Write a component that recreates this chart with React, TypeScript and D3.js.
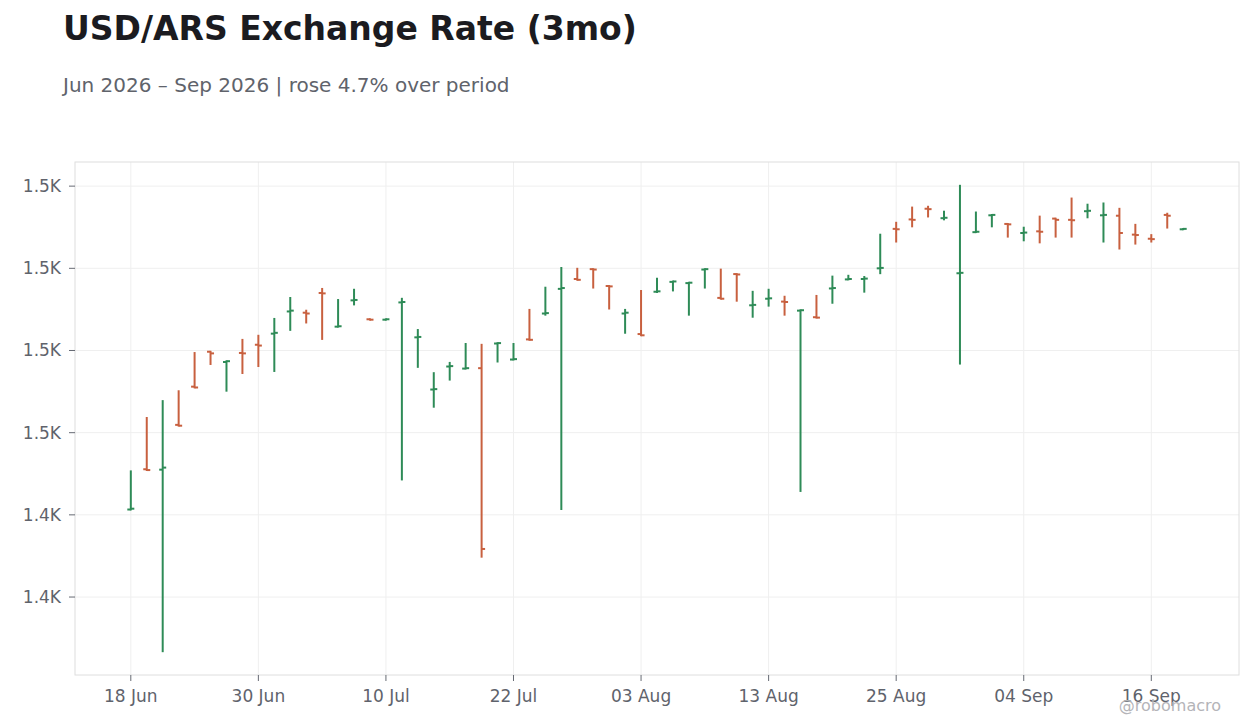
import React, { useEffect, useRef } from 'react';
import * as d3 from 'd3';

// trading days shown on the x axis (weekends skipped)
const dates = [
    '2026-06-18', '2026-06-19', '2026-06-22', '2026-06-23', '2026-06-24', '2026-06-25', '2026-06-26', '2026-06-29', '2026-06-30',
    '2026-07-01', '2026-07-02', '2026-07-03', '2026-07-06', '2026-07-07', '2026-07-08', '2026-07-09', '2026-07-10',
    '2026-07-13', '2026-07-14', '2026-07-15', '2026-07-16', '2026-07-17', '2026-07-20', '2026-07-21', '2026-07-22',
    '2026-07-23', '2026-07-24', '2026-07-27', '2026-07-28', '2026-07-29', '2026-07-30', '2026-07-31',
    '2026-08-03', '2026-08-04', '2026-08-05', '2026-08-06', '2026-08-07', '2026-08-10', '2026-08-11', '2026-08-12',
    '2026-08-13', '2026-08-14', '2026-08-17', '2026-08-18', '2026-08-19', '2026-08-20', '2026-08-21', '2026-08-24',
    '2026-08-25', '2026-08-26', '2026-08-27', '2026-08-28', '2026-08-31',
    '2026-09-01', '2026-09-02', '2026-09-03', '2026-09-04', '2026-09-07', '2026-09-08', '2026-09-09', '2026-09-10',
    '2026-09-11', '2026-09-14', '2026-09-15', '2026-09-16', '2026-09-17', '2026-09-18',
];

const opens = [
    1441.3, 1451.1, 1451.0, 1461.9, 1471.2, 1479.7, 1477.2, 1479.4, 1481.4, 1484.1,
    1489.5, 1489.2, 1494.0, 1485.8, 1492.2, 1487.6, 1487.5, 1491.7, 1483.2, 1470.5,
    1476.1, 1475.6, 1475.7, 1481.7, 1477.8, 1482.7, 1489.0, 1495.0, 1497.4, 1499.8,
    1495.7, 1489.0, 1484.0, 1494.3, 1496.7, 1496.4, 1499.7, 1492.8, 1498.6, 1491.0,
    1492.6, 1491.9, 1489.7, 1488.1, 1495.1, 1497.3, 1497.4, 1500.0, 1509.6, 1511.9,
    1514.5, 1512.2, 1498.8, 1508.8, 1512.9, 1510.8, 1508.6, 1509.0, 1512.1, 1511.8,
    1513.9, 1512.9, 1512.8, 1508.2, 1507.2, 1513.0, 1509.5,
];

const highs = [
    1450.7, 1463.7, 1467.8, 1470.2, 1479.5, 1479.8, 1477.5, 1482.7, 1483.7, 1487.8,
    1492.9, 1489.8, 1495.1, 1492.4, 1494.9, 1487.7, 1487.7, 1492.7, 1485.1, 1474.6,
    1477.1, 1481.7, 1481.5, 1481.9, 1481.7, 1490.0, 1495.4, 1500.2, 1500.0, 1499.9,
    1495.8, 1490.0, 1494.6, 1497.6, 1496.9, 1496.6, 1499.9, 1499.8, 1498.7, 1494.4,
    1494.9, 1493.2, 1489.9, 1493.4, 1498.1, 1498.3, 1498.0, 1508.3, 1511.2, 1514.9,
    1515.1, 1513.9, 1520.2, 1513.7, 1513.1, 1510.9, 1510.0, 1512.7, 1512.2, 1517.1,
    1515.6, 1515.9, 1514.6, 1510.7, 1508.2, 1513.4, 1509.7,
];

const lows = [
    1441.2, 1450.8, 1406.7, 1461.6, 1470.9, 1476.6, 1470.1, 1474.4, 1476.1, 1474.9,
    1484.9, 1486.7, 1482.7, 1485.7, 1491.1, 1487.4, 1487.4, 1448.5, 1475.9, 1466.2,
    1472.8, 1475.5, 1429.7, 1477.2, 1477.7, 1482.5, 1488.6, 1441.3, 1497.1, 1495.2,
    1490.1, 1484.2, 1483.6, 1494.1, 1494.5, 1488.6, 1495.2, 1492.5, 1492.0, 1488.1,
    1490.8, 1488.6, 1445.7, 1487.9, 1491.5, 1497.2, 1494.2, 1498.7, 1506.4, 1510.1,
    1512.5, 1511.8, 1476.7, 1508.7, 1510.1, 1507.6, 1506.7, 1506.2, 1507.6, 1507.6,
    1512.3, 1506.4, 1504.7, 1505.9, 1506.4, 1509.8, 1509.4,
];

const closes = [
    1441.5, 1450.9, 1451.5, 1461.7, 1471.0, 1479.3, 1477.4, 1479.3, 1481.2, 1484.3,
    1489.7, 1489.0, 1493.9, 1485.9, 1492.3, 1487.5, 1487.6, 1491.8, 1483.3, 1470.6,
    1476.2, 1475.7, 1431.7, 1481.8, 1477.9, 1482.6, 1489.1, 1495.2, 1497.2, 1499.7,
    1495.6, 1489.2, 1483.7, 1494.4, 1496.8, 1496.5, 1499.8, 1492.6, 1498.5, 1491.1,
    1492.7, 1491.8, 1489.8, 1488.0, 1495.2, 1497.4, 1497.5, 1500.1, 1509.5, 1511.8,
    1514.4, 1512.3, 1498.9, 1508.9, 1513.0, 1510.7, 1508.7, 1508.9, 1511.8, 1511.7,
    1514.0, 1513.0, 1508.6, 1508.1, 1507.1, 1512.8, 1509.6,
];

const UP = '#2e8b57';
const DOWN = '#c8603f';
const FONT = '"DejaVu Sans", sans-serif';

const App: React.FC = () => {
    const svgRef = useRef<SVGSVGElement | null>(null);

    useEffect(() => {
        const width = 1260;
        const height = 728;
        const plot = { left: 75, right: 1239, top: 162, bottom: 675 };

        const svg = d3.select(svgRef.current)
            .attr('width', width)
            .attr('height', height);
        svg.selectAll('*').remove();

        const bars = dates.map((d, i) => ({
            date: d,
            o: opens[i],
            h: highs[i],
            l: lows[i],
            c: closes[i],
        }));

        const x = d3.scalePoint<string>()
            .domain(dates)
            .range([plot.left, plot.right])
            .padding(3.5);

        // 5% headroom above and below the data range
        const lo = d3.min(lows) as number;
        const hi = d3.max(highs) as number;
        const pad = (hi - lo) * 0.05;
        const y = d3.scaleLinear()
            .domain([lo - pad, hi + pad])
            .range([plot.bottom, plot.top]);

        const parse = d3.timeParse('%Y-%m-%d');
        const fmtDate = d3.timeFormat('%d %b');
        const xTicks = dates.filter((_, i) => i % 8 === 0);
        const yTicks = y.ticks(6);
        const fmtY = (v: number) => d3.format('.2s')(v).replace('k', 'K');

        // titles
        svg.append('text')
            .attr('x', 63).attr('y', 40)
            .attr('font-family', FONT).attr('font-size', 33).attr('font-weight', 'bold')
            .attr('fill', '#1b1b20')
            .text('USD/ARS Exchange Rate (3mo)');
        svg.append('text')
            .attr('x', 63).attr('y', 92)
            .attr('font-family', FONT).attr('font-size', 20)
            .attr('fill', '#60636b')
            .text('Jun 2026 – Sep 2026 | rose 4.7% over period');

        // grid
        const grid = svg.append('g').attr('stroke', '#efefef').attr('stroke-width', 1);
        grid.selectAll('line.gx')
            .data(xTicks)
            .enter()
            .append('line')
            .attr('x1', (d) => x(d) as number).attr('x2', (d) => x(d) as number)
            .attr('y1', plot.top).attr('y2', plot.bottom);
        grid.selectAll('line.gy')
            .data(yTicks)
            .enter()
            .append('line')
            .attr('x1', plot.left).attr('x2', plot.right)
            .attr('y1', (d) => y(d)).attr('y2', (d) => y(d));

        // frame
        svg.append('rect')
            .attr('x', plot.left).attr('y', plot.top)
            .attr('width', plot.right - plot.left).attr('height', plot.bottom - plot.top)
            .attr('fill', 'none').attr('stroke', '#dedede');

        // y axis
        const yAxis = svg.append('g');
        yAxis.selectAll('line')
            .data(yTicks)
            .enter()
            .append('line')
            .attr('x1', plot.left - 6).attr('x2', plot.left)
            .attr('y1', (d) => y(d)).attr('y2', (d) => y(d))
            .attr('stroke', '#666a73');
        yAxis.selectAll('text')
            .data(yTicks)
            .enter()
            .append('text')
            .attr('x', plot.left - 14)
            .attr('y', (d) => y(d))
            .attr('dy', '0.35em')
            .attr('text-anchor', 'end')
            .attr('font-family', FONT).attr('font-size', 17)
            .attr('fill', '#5f636c')
            .text((d) => fmtY(d));

        // x axis
        const xAxis = svg.append('g');
        xAxis.selectAll('line')
            .data(xTicks)
            .enter()
            .append('line')
            .attr('x1', (d) => x(d) as number).attr('x2', (d) => x(d) as number)
            .attr('y1', plot.bottom).attr('y2', plot.bottom + 6)
            .attr('stroke', '#666a73');
        xAxis.selectAll('text')
            .data(xTicks)
            .enter()
            .append('text')
            .attr('x', (d) => x(d) as number)
            .attr('y', 702)
            .attr('text-anchor', 'middle')
            .attr('font-family', FONT).attr('font-size', 17)
            .attr('fill', '#5f636c')
            .text((d) => fmtDate(parse(d) as Date));

        // OHLC bars: open tick left, close tick right
        const tick = 3.5;
        const g = svg.append('g').attr('stroke-width', 2).attr('fill', 'none');
        const bar = g.selectAll('g')
            .data(bars)
            .enter()
            .append('g')
            .attr('stroke', (d) => (d.c >= d.o ? UP : DOWN));
        bar.append('line')
            .attr('x1', (d) => x(d.date) as number).attr('x2', (d) => x(d.date) as number)
            .attr('y1', (d) => y(d.h) - 0.5).attr('y2', (d) => y(d.l) + 0.5);
        bar.append('line')
            .attr('x1', (d) => (x(d.date) as number) - tick).attr('x2', (d) => x(d.date) as number)
            .attr('y1', (d) => y(d.o)).attr('y2', (d) => y(d.o));
        bar.append('line')
            .attr('x1', (d) => x(d.date) as number).attr('x2', (d) => (x(d.date) as number) + tick)
            .attr('y1', (d) => y(d.c)).attr('y2', (d) => y(d.c));

        // watermark
        svg.append('text')
            .attr('x', 1221).attr('y', 711)
            .attr('text-anchor', 'end')
            .attr('font-family', FONT).attr('font-size', 16)
            .attr('fill', '#b4b4b8')
            .text('@robomacro');
    }, []);

    return (
        <svg
            ref={svgRef}
            style={{ position: 'absolute', left: 0, top: 0, display: 'block', background: '#fff' }}
        ></svg>
    );
};

export default App;
